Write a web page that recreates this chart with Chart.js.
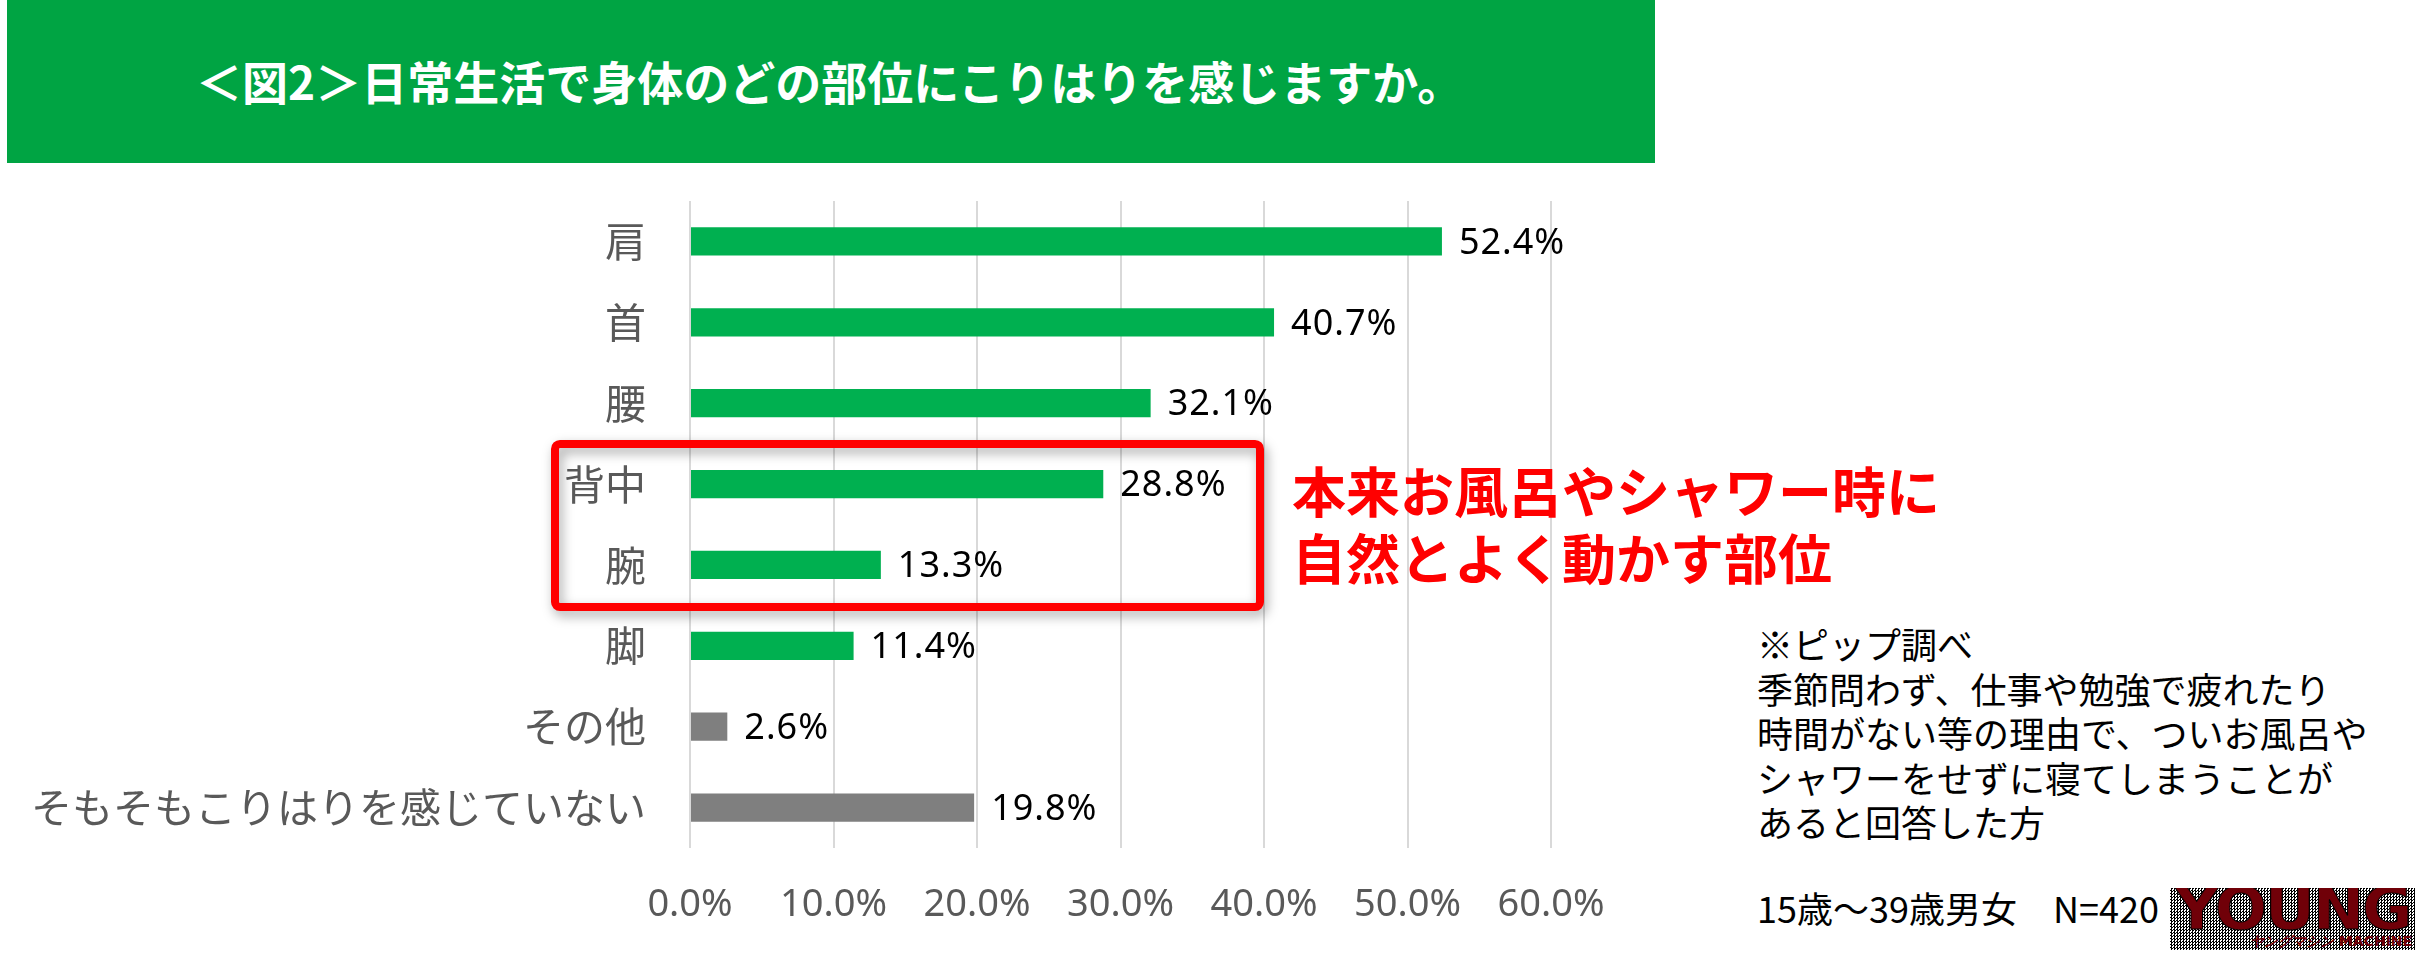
<!DOCTYPE html>
<html><head><meta charset="utf-8">
<script src="https://cdn.jsdelivr.net/npm/chart.js@4.4.1/dist/chart.umd.min.js"></script>
<style>
html,body{margin:0;padding:0;background:#fff;width:2431px;height:960px;overflow:hidden;font-family:"Noto Sans CJK JP",sans-serif;}
#titlebox{position:absolute;left:7px;top:0;width:1648px;height:163px;background:#00A443;}
#title{position:absolute;left:196px;top:52px;height:56px;line-height:56px;color:#fff;font-weight:bold;font-size:46px;white-space:nowrap;}
#wrap{position:absolute;left:0;top:0;width:1620px;height:960px;}
#red{position:absolute;left:1292px;top:456px;font-size:54px;font-weight:bold;color:#f00;line-height:67px;white-space:nowrap;}
#note{position:absolute;left:1757px;top:621px;font-size:36px;line-height:44.5px;color:#000;white-space:nowrap;}
#sample{position:absolute;left:1757px;top:885px;font-size:36px;line-height:44.5px;color:#000;white-space:nowrap;}
#logo{position:absolute;left:2170px;top:888px;width:245px;height:62px;overflow:hidden;
 background:repeating-conic-gradient(#000 0 25%,#fff 0 50%) 0 0/3px 3px;}
#logo .y{position:absolute;left:0;top:-8px;width:245px;text-align:center;font-family:"DejaVu Sans",sans-serif;font-weight:bold;font-size:58px;line-height:58px;color:#700008;-webkit-text-stroke:1px #000;transform:scaleX(1.06);transform-origin:center;letter-spacing:-2px;}
#logo .m{position:absolute;left:80px;top:45px;font-family:"DejaVu Sans",sans-serif;font-weight:bold;font-size:14px;line-height:16px;color:#700008;white-space:nowrap;}
</style></head>
<body>
<div id="titlebox"></div>
<div id="title">＜図2＞日常生活で身体のどの部位にこりはりを感じますか。</div>
<div id="wrap"><canvas id="c" width="1620" height="960"></canvas></div>
<div id="red">本来お風呂やシャワー時に<br>自然とよく動かす部位</div>
<div id="note">※ピップ調べ<br>季節問わず、仕事や勉強で疲れたり<br>時間がない等の理由で、ついお風呂や<br>シャワーをせずに寝てしまうことが<br>あると回答した方</div>
<div id="sample">15歳～39歳男女　N=420</div>
<div id="logo"><div class="y">YOUNG</div><div class="m"><i>ヤングマシン</i> MACHINE</div></div>
<script>
const categories = ['肩','首','腰','背中','腕','脚','その他','そもそもこりはりを感じていない'];
const values = [52.4, 40.7, 32.1, 28.8, 13.3, 11.4, 2.6, 19.8];
const barColors = ['#00B050','#00B050','#00B050','#00B050','#00B050','#00B050','#7F7F7F','#7F7F7F'];
const xTicks = [0, 10, 20, 30, 40, 50, 60];
const highlighted = [3, 4];

const labelPlugin = {
  id: 'barLabels',
  afterDatasetsDraw(chart) {
    const ctx = chart.ctx;
    const meta = chart.getDatasetMeta(0);
    ctx.save();
    ctx.font = '36px "Noto Sans","Noto Sans CJK JP"';
    ctx.fillStyle = '#000';
    ctx.textAlign = 'left';
    ctx.textBaseline = 'middle';
    if ('letterSpacing' in ctx) ctx.letterSpacing = '1px';
    meta.data.forEach((bar, i) => {
      ctx.fillText(values[i].toFixed(1) + '%', bar.x + 17, bar.y + 2);
    });
    ctx.restore();
  }
};

const boxPlugin = {
  id: 'highlightBox',
  afterDraw(chart) {
    const y = chart.scales.y, x = chart.scales.x, ctx = chart.ctx;
    const i0 = highlighted[0], i1 = highlighted[highlighted.length - 1];
    const step = y.getPixelForValue(1) - y.getPixelForValue(0);
    const lw = 8;
    const top = y.getPixelForValue(i0) - 0.545 * step + lw / 2;
    const bottom = y.getPixelForValue(i1) + 0.57 * step - lw / 2;
    const left = chart.chartArea.left - 139 + lw / 2;
    const right = x.getPixelForValue(40.0) - lw / 2;
    ctx.save();
    ctx.strokeStyle = '#FF0000';
    ctx.lineWidth = lw;
    ctx.shadowColor = 'rgba(0,0,0,0.35)';
    ctx.shadowBlur = 12;
    ctx.shadowOffsetX = 3;
    ctx.shadowOffsetY = 5;
    ctx.beginPath();
    if (ctx.roundRect) ctx.roundRect(left, top, right - left, bottom - top, 5);
    else ctx.rect(left, top, right - left, bottom - top);
    ctx.stroke();
    ctx.restore();
  }
};

new Chart(document.getElementById('c'), {
  type: 'bar',
  data: {
    labels: categories,
    datasets: [{ data: values, backgroundColor: barColors, barPercentage: 0.35, categoryPercentage: 1.0 }]
  },
  options: {
    indexAxis: 'y',
    responsive: false,
    animation: false,
    layout: { padding: { top: 201, right: 69, left: 0, bottom: 0 } },
    plugins: { legend: { display: false }, tooltip: { enabled: false } },
    scales: {
      x: {
        min: 0, max: 60,
        afterBuildTicks: s => { s.ticks = xTicks.map(v => ({ value: v })); },
        ticks: {
          callback: v => Number(v).toFixed(1) + '%',
          color: '#595959',
          font: { size: 38, family: '"Noto Sans","Noto Sans CJK JP"' },
          padding: 34,
          maxRotation: 0, autoSkip: false
        },
        grid: { color: '#D9D9D9', lineWidth: 2, drawTicks: false },
        border: { display: false },
        afterFit: s => { s.height = 112; s.paddingLeft = 0; s.paddingRight = 0; }
      },
      y: {
        ticks: {
          color: '#595959',
          font: { size: 41, family: '"Noto Sans CJK JP"' },
          padding: 44, autoSkip: false
        },
        grid: { display: false, drawTicks: false },
        border: { display: false },
        afterFit: s => { s.width = 690; s.paddingTop = 0; s.paddingBottom = 0; }
      }
    }
  },
  plugins: [labelPlugin, boxPlugin]
});
</script>
</body></html>
